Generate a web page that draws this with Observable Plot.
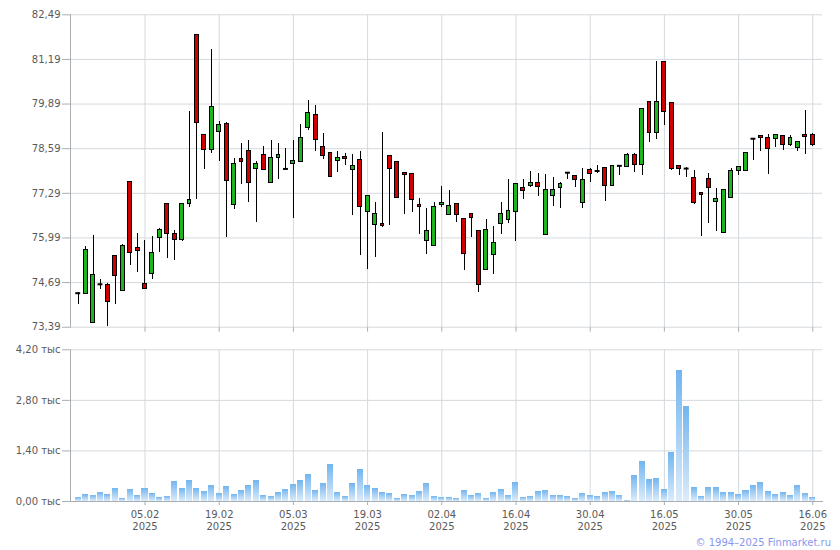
<!DOCTYPE html>
<html><head><meta charset="utf-8">
<script src="https://cdn.jsdelivr.net/npm/d3@7"></script>
<script src="https://cdn.jsdelivr.net/npm/@observablehq/plot@0.6"></script>
<style>
body{margin:0;background:#fff;}
#wrap{position:relative;width:840px;height:550px;font-family:"DejaVu Sans",Verdana,sans-serif;background:#fff;}
#top{position:absolute;left:0;top:0;}
#bot{position:absolute;left:0;top:340px;}
#copy{position:absolute;right:9px;top:536px;font-size:10px;line-height:13px;color:#8797ee;white-space:nowrap;}
</style>
</head><body>
<div id="wrap"><div id="top"></div><div id="bot"></div><div id="copy">© 1994–2025 Finmarket.ru</div></div>
<script>
// ---- data (trading-day index 0..99) ----
const open  = [74.38,74.36,73.52,74.64,74.62,75.47,74.45,77.63,75.70,74.66,
               74.95,76.00,76.98,76.11,75.93,76.98,81.89,78.99,78.56,79.08,
               79.31,76.96,78.30,78.53,78.00,78.41,77.60,78.31,78.00,78.15,
               78.21,79.19,79.56,78.64,78.45,78.24,78.36,77.97,78.27,76.75,
               76.37,76.40,78.38,78.19,77.89,77.86,76.95,75.91,75.76,76.95,
               76.66,76.99,76.55,76.69,76.20,75.06,75.50,76.40,76.52,76.75,
               77.45,77.50,77.60,76.08,77.22,77.44,77.89,77.80,77.01,77.97,
               77.94,78.03,77.51,78.09,78.07,78.41,78.12,79.96,79.05,81.12,
               79.93,78.09,78.01,77.75,77.30,77.72,77.04,76.14,77.16,77.95,
               77.95,78.88,78.97,78.91,78.88,78.97,78.70,78.62,79.00,79.00];
const high  = [74.40,75.75,76.05,74.79,74.65,75.48,75.79,77.63,76.11,75.92,
               76.02,76.27,76.98,76.21,76.99,79.67,81.89,79.00,81.47,79.37,
               79.34,78.30,78.73,78.82,78.22,78.64,78.82,78.74,78.59,78.82,
               79.28,79.98,79.84,79.02,78.48,78.51,78.44,78.41,78.51,77.24,
               77.01,79.05,78.40,78.22,77.90,77.87,77.14,76.85,77.01,77.48,
               77.37,77.00,76.56,76.70,76.21,76.52,76.31,77.02,77.68,77.56,
               77.68,77.92,77.86,77.83,77.74,77.61,77.89,77.81,78.00,78.00,
               78.09,78.04,78.09,78.09,78.44,78.44,79.76,79.97,81.13,81.13,
               79.94,78.10,78.04,77.95,77.31,77.87,77.43,77.41,78.00,78.07,
               78.47,78.88,78.98,79.00,79.01,78.98,78.97,78.80,79.69,79.02];
const low   = [74.04,74.35,73.50,74.50,73.42,74.04,74.44,75.20,74.99,74.50,
               74.79,75.58,75.38,75.32,75.90,76.88,77.12,77.99,78.46,78.22,
               75.99,76.81,77.56,77.03,76.45,77.97,77.58,77.68,78.00,76.55,
               78.20,79.11,78.50,78.28,77.77,77.91,78.09,76.65,75.47,75.06,
               75.43,76.29,76.36,77.15,76.68,76.72,76.10,75.50,75.75,76.87,
               76.65,76.45,75.05,76.01,74.41,75.05,74.93,76.08,76.40,75.90,
               77.12,77.47,77.21,76.07,76.92,76.86,77.68,77.47,76.86,77.61,
               77.86,77.06,77.50,77.80,78.06,77.89,77.80,78.78,78.85,79.26,
               77.96,77.82,77.74,76.95,76.02,76.40,76.17,76.13,77.15,77.80,
               77.95,78.24,78.50,77.83,78.63,78.53,78.64,78.50,78.41,78.64];
const close = [74.38,75.65,74.92,74.64,74.12,74.88,75.76,75.55,75.60,74.51,
               75.56,76.21,76.11,75.94,76.98,77.10,79.33,78.56,79.81,79.29,
               77.65,78.13,78.20,77.60,78.13,77.97,78.32,78.41,78.00,78.24,
               78.91,79.63,78.85,78.38,77.77,78.32,78.29,78.09,76.90,77.22,
               76.69,76.33,78.00,77.16,77.83,77.10,76.90,76.20,76.90,77.01,
               76.91,76.66,75.52,76.58,74.62,76.23,75.85,76.70,76.78,77.55,
               77.36,77.60,77.48,77.39,77.39,77.57,77.89,77.68,77.68,77.86,
               77.94,77.51,78.09,78.09,78.41,78.12,79.75,79.05,79.96,79.66,
               77.99,78.00,78.01,77.01,77.25,77.45,77.13,77.39,77.95,78.06,
               78.47,78.88,78.90,78.59,79.00,78.70,78.91,78.79,78.93,78.70];
// volume, thousands
const volume = [0.111,0.185,0.167,0.250,0.195,0.362,0.083,0.334,0.167,0.362,
                0.223,0.111,0.139,0.556,0.362,0.584,0.362,0.278,0.445,0.223,
                0.417,0.195,0.306,0.445,0.584,0.167,0.139,0.250,0.334,0.473,
                0.584,0.751,0.306,0.501,1.029,0.250,0.139,0.501,0.890,0.445,
                0.362,0.250,0.223,0.083,0.195,0.167,0.278,0.501,0.139,0.111,
                0.111,0.083,0.306,0.167,0.223,0.083,0.250,0.334,0.167,0.528,
                0.111,0.139,0.278,0.306,0.167,0.167,0.139,0.083,0.223,0.167,
                0.139,0.250,0.278,0.167,0.028,0.723,1.113,0.612,0.640,0.334,
                1.363,3.616,2.643,0.389,0.139,0.389,0.389,0.250,0.250,0.195,
                0.306,0.445,0.528,0.278,0.195,0.250,0.167,0.445,0.223,0.111];
const tickIndex = [9,19,29,39,49,59,69,79,89,99];
const tickDates = ["05.02","19.02","05.03","19.03","02.04","16.04","30.04","16.05","30.05","16.06"];
const tickYear = "2025";
const priceTicks = [73.39,74.69,75.99,77.29,78.59,79.89,81.19,82.49];
const volumeTicks = [0,1.4,2.8,4.2];

// ---- build ----
const candles = open.map((o,i)=>({i, open:o, high:high[i], low:low[i], close:close[i]}));
const vols = volume.map((v,i)=>({i, v}));
const GREEN = "#1eb41e", RED = "#d10000";
const xDomain = [-1.04, 100.31];
const gridC = "#d4d9dd", axisC = "#a9aeb3", textC = "#5a5a5a";
const fmt = d => d.toFixed(2).replace(".", ",");
const labelOf = new Map(tickIndex.map((t,k)=>[t, tickDates[k]]));
const style = {fontFamily:"'DejaVu Sans', Verdana, sans-serif", fontSize:"10px", color:textC, background:"#fff", overflow:"visible"};

const topPlot = Plot.plot({
  width:840, height:340, marginTop:14.3, marginBottom:13.3, marginLeft:70, marginRight:18,
  style,
  x:{type:"linear", domain:xDomain},
  y:{domain:[73.39, 82.49]},
  marks:[
    Plot.gridY({ticks:priceTicks, stroke:gridC, strokeOpacity:1}),
    Plot.gridX({ticks:tickIndex, stroke:gridC, strokeOpacity:1}),
    Plot.axisY({ticks:priceTicks, tickFormat:fmt, tickSize:8, tickPadding:2, stroke:axisC, fill:textC, label:null}),
    Plot.axisX({ticks:tickIndex, tickFormat:()=>"", tickSize:5, stroke:axisC, label:null}),
    Plot.frame({anchor:"left", stroke:axisC}),
    Plot.ruleX(candles, {x:"i", y1:"low", y2:"high", stroke:"#000", strokeWidth:1, shapeRendering:"crispEdges"}),
    Plot.rect(candles.filter(d=>d.open!==d.close), {
      x1:d=>d.i-0.26, x2:d=>d.i+0.26, y1:"open", y2:"close",
      fill:d=>d.close>d.open?GREEN:RED, stroke:"#000", strokeWidth:1, shapeRendering:"crispEdges"}),
    Plot.ruleY(candles.filter(d=>d.open===d.close), {
      y:"open", x1:d=>d.i-0.33, x2:d=>d.i+0.33, stroke:"#000", strokeWidth:2})
  ]
});
document.getElementById("top").append(topPlot);

const botPlot = Plot.plot({
  width:840, height:210, marginTop:9.3, marginBottom:49, marginLeft:70, marginRight:18,
  style,
  x:{type:"linear", domain:xDomain},
  y:{domain:[0, 4.2]},
  marks:[
    Plot.gridY({ticks:volumeTicks, stroke:gridC, strokeOpacity:1}),
    Plot.gridX({ticks:tickIndex, stroke:gridC, strokeOpacity:1}),
    Plot.rectY(vols, {x1:d=>d.i-0.405, x2:d=>d.i+0.405, y:"v", fill:"url(#volgrad)", shapeRendering:"crispEdges"}),
    Plot.axisY({ticks:volumeTicks, tickFormat:d=>fmt(d)+" тыс", tickSize:8, tickPadding:2, stroke:axisC, fill:textC, label:null}),
    Plot.axisX({ticks:tickIndex, tickFormat:d=>labelOf.get(d)+"\n"+tickYear, tickSize:4, tickPadding:4, lineHeight:1.2, stroke:axisC, fill:textC, label:null}),
    Plot.frame({anchor:"left", stroke:axisC}),
    Plot.frame({anchor:"bottom", stroke:axisC})
  ]
});
const defs = d3.select(botPlot).insert("defs", ":first-child");
const g = defs.append("linearGradient").attr("id","volgrad").attr("x1",0).attr("y1",0).attr("x2",0).attr("y2",1);
g.append("stop").attr("offset","0%").attr("stop-color","#72b5ee");
g.append("stop").attr("offset","100%").attr("stop-color","#dcecfb");
document.getElementById("bot").append(botPlot);
</script>
</body></html>
